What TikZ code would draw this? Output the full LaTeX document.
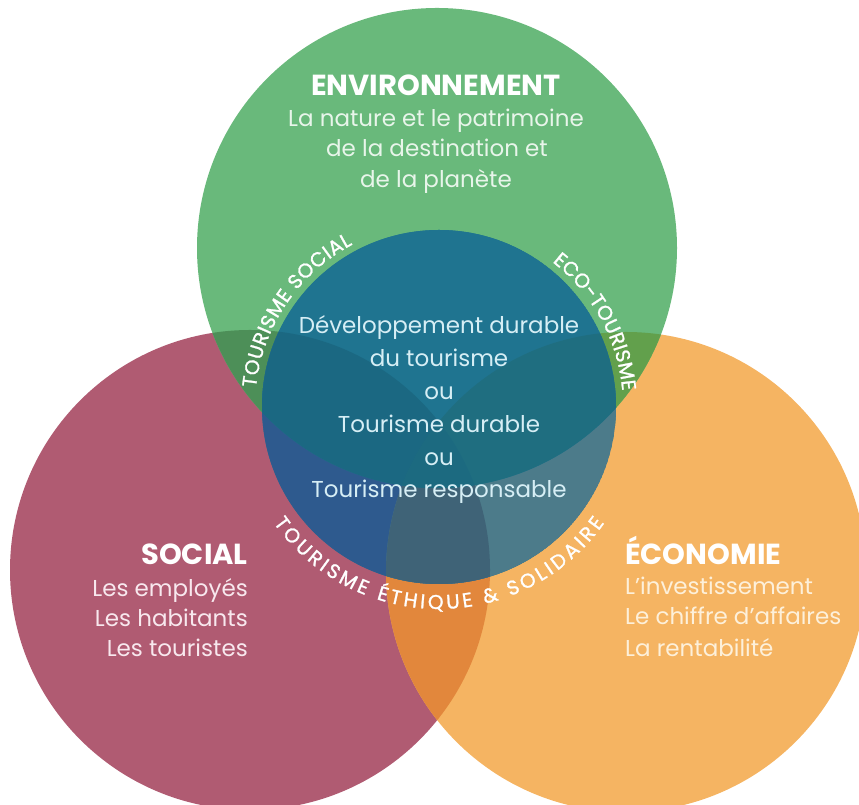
\documentclass[tikz,border=0pt]{standalone}
\usepackage{fontspec}
\setmainfont{Poppins}
\newfontfamily\curvefam[FakeBold=1.2]{Poppins}
\usetikzlibrary{decorations.text,calc}
\definecolor{cred}{HTML}{B05B72}
\definecolor{corange}{HTML}{F5B462}
\definecolor{cgreen}{HTML}{69B97B}
\definecolor{credorange}{HTML}{E2873C}
\definecolor{credgreen}{HTML}{4D8F58}
\definecolor{corangegreen}{HTML}{62A04C}
\definecolor{cC}{HTML}{1F7490}
\definecolor{cCR}{HTML}{2E5A8E}
\definecolor{cCO}{HTML}{4C7B8A}
\definecolor{cCRO}{HTML}{3F6377}
\definecolor{cCG}{HTML}{1F7490}
\definecolor{cCGR}{HTML}{1B6882}
\definecolor{cCGO}{HTML}{1F6E80}
\definecolor{cCGRO}{HTML}{1C6A80}
\definecolor{tenv}{HTML}{E8F5EA}
\definecolor{tcen}{HTML}{D6EEF5}
\definecolor{tsoc}{HTML}{F8E8EE}
\definecolor{teco}{HTML}{FDF0DA}
\tikzset{
  titletext/.style={font=\fontsize{29}{29}\selectfont\bfseries, text=white, inner sep=0pt},
  bodytext/.style={font=\fontsize{23}{23}\selectfont, inner sep=0pt},
  curvetext/.style={decorate, decoration={text along path, text align={fit to path}, text color=white}},
}
\newcommand{\curvefont}{\curvefam\fontsize{20}{20}\selectfont}
\begin{document}
\begin{tikzpicture}[x=1pt,y=1pt]
\useasboundingbox (0,0) rectangle (859,805);
\coordinate (G) at (437,557);
\coordinate (R) at (250,235);
\coordinate (O) at (626,233);
\coordinate (C) at (439,398);
% outer circles
\fill[cred] (R) circle (240pt);
\fill[corange] (O) circle (240pt);
\fill[cgreen] (G) circle (240pt);
\begin{scope}\clip (R) circle (240pt); \fill[credorange] (O) circle (240pt);\end{scope}
\begin{scope}\clip (R) circle (240pt); \fill[credgreen] (G) circle (240pt);\end{scope}
\begin{scope}\clip (O) circle (240pt); \fill[corangegreen] (G) circle (240pt);\end{scope}
% centre circle
\begin{scope}
  \clip (C) circle (177pt);
  \fill[cC] (C) circle (177pt);
  \fill[cCR] (R) circle (240pt);
  \fill[cCO] (O) circle (240pt);
  \begin{scope}\clip (R) circle (240pt); \fill[cCRO] (O) circle (240pt);\end{scope}
  \fill[cCG] (G) circle (240pt);
  \begin{scope}
    \clip (G) circle (240pt);
    \fill[cCGR] (R) circle (240pt);
    \fill[cCGO] (O) circle (240pt);
    \clip (R) circle (240pt);
    \fill[cCGRO] (O) circle (240pt);
  \end{scope}
\end{scope}
% curved labels
\path[curvetext, decoration={text={|\curvefont|TOURISME SOCIAL}}]
  ($(C)+(174:184pt)$) arc[start angle=174, end angle=118, radius=184pt];
\path[curvetext, decoration={text={|\curvefont|ECO-TOURISME}}]
  ($(C)+(52:184pt)$) arc[start angle=52, end angle=5, radius=184pt];
\path[curvetext, decoration={text={|\curvefont|TOURISME ÉTHIQUE {\&} SOLIDAIRE}}]
  ($(C)+(215:202pt)$) arc[start angle=215, end angle=325, radius=202pt];
% environnement
\node[titletext, anchor=base] (envT) at (436,709) {ENVIRONNEMENT};
\node[bodytext, text=tenv, anchor=base] (env1) at (436,678) {La nature et le patrimoine};
\node[bodytext, text=tenv, anchor=base] (env2) at (437,648) {de la destination et};
\node[bodytext, text=tenv, anchor=base] (env3) at (436,617) {de la planète};
% centre
\node[bodytext, text=tcen, anchor=base] (cen1) at (439,471) {Développement durable};
\node[bodytext, text=tcen, anchor=base] (cen2) at (439,438) {du tourisme};
\node[bodytext, text=tcen, anchor=base] (cen3) at (439,405) {ou};
\node[bodytext, text=tcen, anchor=base] (cen4) at (439,372) {Tourisme durable};
\node[bodytext, text=tcen, anchor=base] (cen5) at (439,339) {ou};
\node[bodytext, text=tcen, anchor=base] (cen6) at (439,307) {Tourisme responsable};
% social
\node[titletext, anchor=base east] (socT) at (248,240) {SOCIAL};
\node[bodytext, text=tsoc, anchor=base east] (soc1) at (248,208) {Les employés};
\node[bodytext, text=tsoc, anchor=base east] (soc2) at (248,178) {Les habitants};
\node[bodytext, text=tsoc, anchor=base east] (soc3) at (248,148) {Les touristes};
% economie
\node[titletext, anchor=base west] (ecoT) at (625,240) {ÉCONOMIE};
\node[bodytext, text=teco, anchor=base west] (eco1) at (625,210) {L’investissement};
\node[bodytext, text=teco, anchor=base west] (eco2) at (625,180) {Le chiffre d’affaires};
\node[bodytext, text=teco, anchor=base west] (eco3) at (625,148) {La rentabilité};
\end{tikzpicture}
\end{document}
